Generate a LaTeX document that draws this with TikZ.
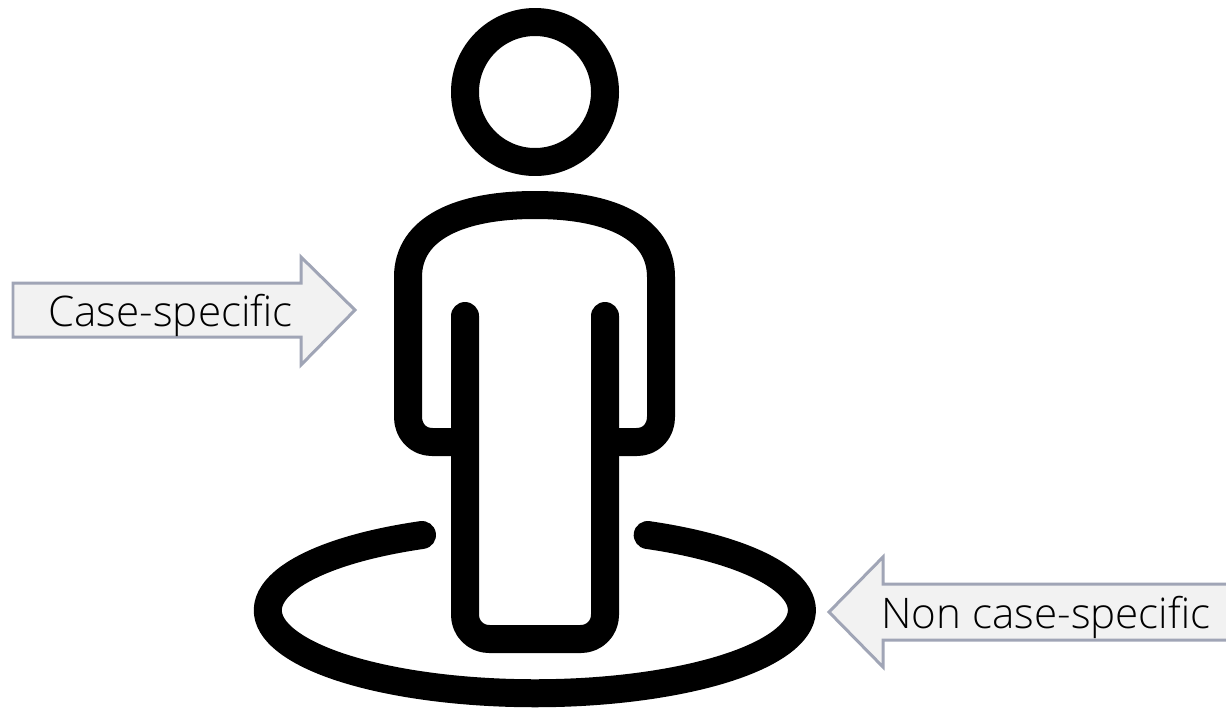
\documentclass[tikz,border=0pt]{standalone}
\usepackage{xcolor}
\usepackage{fontspec}
\setsansfont{Open Sans}[UprightFont=* Light]
\usepackage{tikz}
\usetikzlibrary{arrows.meta,positioning}
\definecolor{figink}{RGB}{0,0,0}
\definecolor{tagedge}{RGB}{160,165,182}
\definecolor{tagfill}{RGB}{242,242,242}
\tikzset{
  figline/.style={draw=figink, line width=0.56cm, line cap=round, line join=round},
  tagarrow/.style={draw=tagedge, fill=tagfill, line width=0.06cm, line join=miter},
  taglabel/.style={font=\fontsize{24}{28}\selectfont\sffamily, text=black, inner sep=0pt, anchor=base west}
}
\begin{document}
\begin{tikzpicture}[x=0.02cm,y=-0.02cm]
  \useasboundingbox (0,0) rectangle (1226,707);
  \fill[white] (0,0) rectangle (1226,707);

  % head
  \draw[figline] (535,92) circle[radius=70];

  % shoulders and arms
  \draw[figline, line cap=butt] (465,442) -- (432,442) .. controls (418,442) and (408,431) .. (408,417)
    -- (408,277) .. controls (408,228) and (460,205) .. (535,205)
    .. controls (610,205) and (661,228) .. (661,277) -- (661,417)
    .. controls (661,431) and (651,442) .. (637,442) -- (605,442);

  % legs
  \draw[figline, rounded corners=0.48cm] (465,316) -- (465,639) -- (605,639) -- (605,316);

  % ground ring
  \draw[figline] (422,535) arc[start angle=-115, end angle=-425, x radius=267, y radius=83];

  % tags
  \draw[tagarrow] (13,283) -- (301,283) -- (301,257) -- (355,310) -- (301,365) -- (301,337) -- (13,337) -- cycle;
  \node[taglabel] (casetag) at (48,326) {Case-specific};

  \draw[tagarrow] (1232,584) -- (883,584) -- (883,557) -- (829,612) -- (883,667) -- (883,640) -- (1232,640);
  \node[taglabel] (noncasetag) at (881,628) {Non case-specific};
\end{tikzpicture}
\end{document}
